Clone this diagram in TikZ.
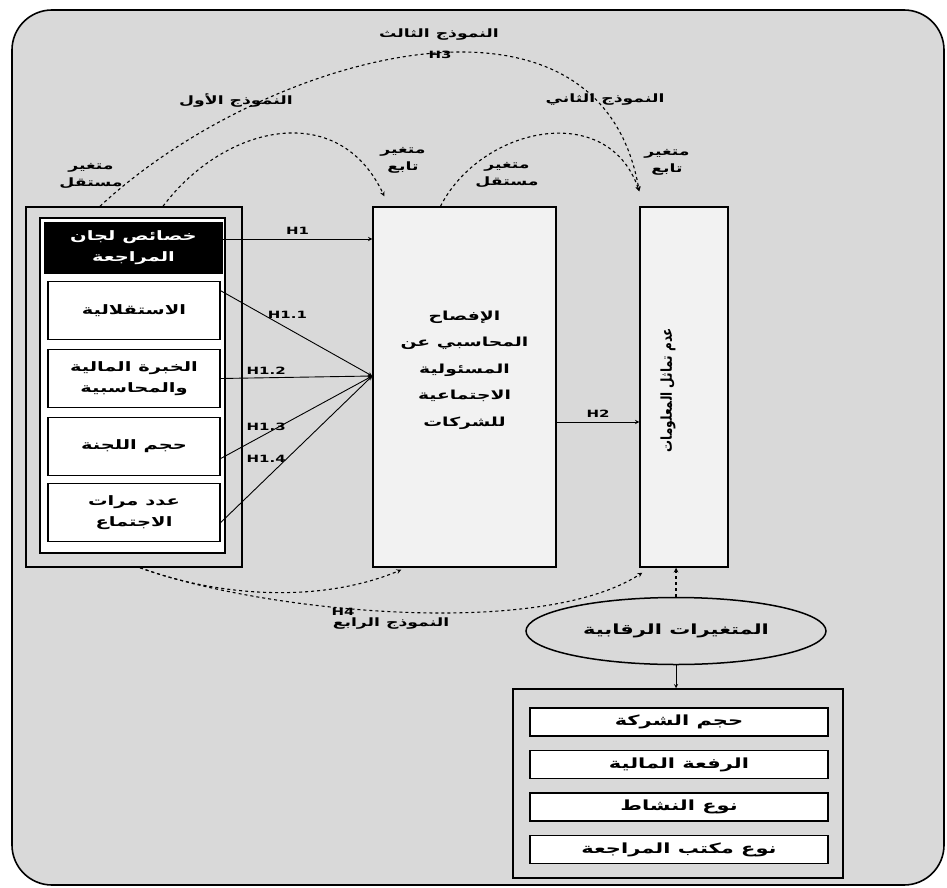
\documentclass[tikz,border=0pt]{standalone}
\usepackage{fontspec}
\setmainfont{DejaVu Sans}
\newfontfamily\arabicfont[Script=Arabic, FakeStretch=1.5]{DejaVu Sans Bold}
\newfontfamily\arabicnarrow[Script=Arabic, FakeStretch=0.8]{DejaVu Sans Bold}
\newfontfamily\hypfont[FakeStretch=1.5]{DejaVu Sans Bold}
\TeXXeTstate=1
\usetikzlibrary{shapes.geometric}
\newcommand{\ar}[1]{{\arabicfont\beginR #1\endR}}
\definecolor{panel}{HTML}{D9D9D9}
\definecolor{pale}{HTML}{F2F2F2}
\tikzset{
  box/.style={draw, line width=1.5pt, inner sep=0pt, align=center, font=\fontsize{13}{21}\selectfont},
  item/.style={box, fill=white, minimum width=172pt, minimum height=58pt},
  ctrlitem/.style={box, fill=white, minimum width=298pt, minimum height=28pt, font=\fontsize{14}{16}\selectfont},
  lbl/.style={font=\fontsize{11.5}{17}\selectfont, align=center, inner sep=1pt},
  hyp/.style={font=\fontsize{10}{10}\hypfont, inner sep=1pt},
  link/.style={->, line width=0.9pt},
  model/.style={->, dashed, line width=1.1pt},
}
\begin{document}
\begin{tikzpicture}[x=1pt, y=-1pt, >=stealth]
\useasboundingbox (0,0) rectangle (947,888);
\draw[fill=panel, line width=1.6pt, rounded corners=40pt] (12,10) rectangle (944,885);

\node[box, fill=panel, minimum width=216pt, minimum height=360pt] (leftbox) at (134,387) {};
\node[box, fill=white, minimum width=185pt, minimum height=335pt] (leftin) at (132.5,385.5) {};
\node[box, fill=black, text=white, minimum width=177pt, minimum height=50pt] (traits) at (133.5,248) {\ar{خصائص لجان}\\\ar{المراجعة}};
\node[item] (indep) at (134,310.5) {\ar{الاستقلالية}};
\node[item] (expert) at (134,378.5) {\ar{الخبرة المالية}\\\ar{والمحاسبية}};
\node[item] (size) at (134,446.5) {\ar{حجم اللجنة}};
\node[item] (meet) at (134,512.5) {\ar{عدد مرات}\\\ar{الاجتماع}};

\node[box, fill=pale, minimum width=183pt, minimum height=360pt] (disc) at (464.5,387) {};
\node[align=center, font=\fontsize{12.5}{26.5}\selectfont] (disctext) at ([yshift=17pt]disc.center)
  {\ar{الإفصاح}\\\ar{المحاسبي عن}\\\ar{المسئولية}\\\ar{الاجتماعية}\\\ar{للشركات}};
\node[box, fill=pale, minimum width=88pt, minimum height=360pt] (asym) at (684,387) {};
\node[rotate=90, font=\fontsize{15}{17}\arabicnarrow] (asymtext) at ([xshift=-16pt,yshift=-3pt]asym.center) {\beginR عدم تماثل المعلومات\endR};

\node[ellipse, draw, line width=1.5pt, minimum width=300pt, minimum height=67pt, font=\fontsize{14}{16}\selectfont] (ctrl) at (676,631) {\ar{المتغيرات الرقابية}};
\node[box, fill=panel, minimum width=330pt, minimum height=189pt] (ctrlbox) at (678,783.5) {};
\foreach \t [count=\i] in {حجم الشركة, الرفعة المالية, نوع النشاط, نوع مكتب المراجعة}
  \node[ctrlitem] (c\i) at (679,679.5+42.5*\i) {\ar{\t}};

\coordinate (hub) at ([yshift=11pt]disc.west);
\draw[link] ([yshift=9pt]traits.east) -- ([yshift=9pt]traits.east -| disc.west) node[midway, above=3pt, hyp] (h1) {H1};
\draw[link] ([yshift=-10pt]indep.north east) -- (hub) node[pos=.44, above=8pt, hyp] (h11) {H1.1};
\draw[link] (expert.east) -- (hub) node[pos=.3, above=2pt, hyp] (h12) {H1.2};
\draw[link] ([yshift=-12pt]size.east) -- (hub) node[pos=.3, above=2pt, hyp] (h13) {H1.3};
\draw[link] ([yshift=-10pt]meet.east) -- (hub) node[pos=.3, above=15pt, hyp] (h14) {H1.4};
\draw[link] ([yshift=-35pt]disc.east) -- ([yshift=-35pt]asym.west) node[midway, above=3pt, hyp] (h2) {H2};

\coordinate (topend) at ([yshift=15pt]asym.north west);
\draw[model] ([xshift=29pt]leftbox.north) to[out=53, in=115, out distance=103pt, in distance=107pt] ([xshift=12pt,yshift=10pt]disc.north west);
\draw[model] ([xshift=-34pt]leftbox.north) to[out=43, in=100, out distance=219pt, in distance=236pt] (topend);
\draw[model] ([xshift=-24pt]disc.north) to[out=63, in=109, out distance=89pt, in distance=97pt] (topend);
\draw[model] ([xshift=6pt]leftbox.south) to[out=-20, in=-157, out distance=96pt, in distance=78pt] ([xshift=29pt,yshift=-2pt]disc.south west);
\draw[model] ([xshift=6pt]leftbox.south) to[out=-20, in=-147, out distance=128pt, in distance=123pt] ([xshift=3pt,yshift=-5pt]asym.south west);
\draw[model] (ctrl.north) -- (ctrl.north |- asym.south);
\draw[link] (ctrl.south) -- (ctrl.south |- ctrlbox.north);

\node[lbl] (indepA) at (91,176) {\ar{متغير}\\\ar{مستقل}};
\node[lbl] (depA) at (403,160) {\ar{متغير}\\\ar{تابع}};
\node[lbl] (indepB) at (507,175) {\ar{متغير}\\\ar{مستقل}};
\node[lbl] (depB) at (667,162) {\ar{متغير}\\\ar{تابع}};
\node[lbl] (model1) at (236,100) {\ar{النموذج الأول}};
\node[lbl] (model3) at (439,35) {\ar{النموذج الثالث}};
\node[hyp] (h3) at (440,55) {H3};
\node[lbl] (model2) at (605,100) {\ar{النموذج الثاني}};
\node[hyp] (h4) at (343,612) {H4};
\node[lbl] (model4) at (391,624) {\ar{النموذج الرابع}};
\end{tikzpicture}
\end{document}
